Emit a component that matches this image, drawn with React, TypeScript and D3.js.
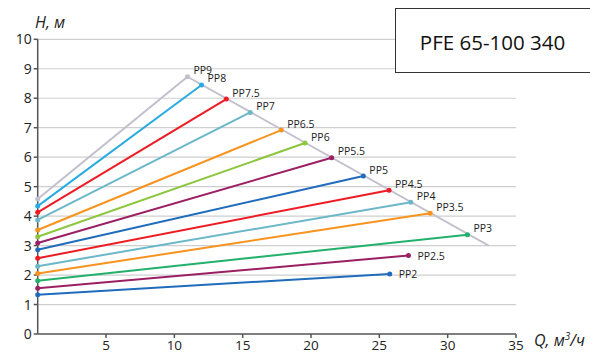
import React, { useEffect, useRef } from "react";
import * as d3 from "d3";

const seriesNames = ["PP9", "PP8", "PP7.5", "PP7", "PP6.5", "PP6", "PP5.5", "PP5", "PP4.5", "PP4", "PP3.5", "PP3", "PP2.5", "PP2"];
const startH = [4.58, 4.34, 4.13, 3.87, 3.53, 3.30, 3.09, 2.86, 2.57, 2.30, 2.05, 1.81, 1.55, 1.33];
const endQ = [10.96, 11.99, 13.8, 15.55, 17.82, 19.56, 21.51, 23.83, 25.71, 27.3, 28.72, 31.45, 27.13, 25.76];
const endH = [8.73, 8.45, 7.97, 7.52, 6.92, 6.48, 5.98, 5.36, 4.88, 4.47, 4.10, 3.37, 2.66, 2.04];
const seriesColors = ["#c3bfcd", "#29abe2", "#ed1c24", "#6cb7c8", "#f7931e", "#8cc63f", "#9b1f63", "#1f6cbc", "#ed1c24", "#6cb7c8", "#f7931e", "#22b06a", "#9b1f63", "#1f6cbc"];
const envelopeQ = [10.96, 33];
const envelopeH = [8.73, 3.0];
const xTicks = [5, 10, 15, 20, 25, 30, 35];
const yTicks = [0, 1, 2, 3, 4, 5, 6, 7, 8, 9, 10];
const title = "PFE 65-100 340";

export default function App() {
  const ref = useRef<SVGSVGElement>(null);
  useEffect(() => {
    const svg = d3.select(ref.current);
    svg.selectAll("*").remove();
    const x = d3.scaleLinear().domain([0, 35]).range([37.7, 516]);
    const y = d3.scaleLinear().domain([0, 10]).range([334, 39.3]);
    const font = "'Open Sans', sans-serif";

    // grid
    svg.append("g").selectAll("line").data(yTicks.filter(t => t > 0)).join("line")
      .attr("x1", x(0)).attr("x2", x(35))
      .attr("y1", d => y(d)).attr("y2", d => y(d))
      .attr("stroke", "#cfcfcf").attr("stroke-width", 1.2);

    // axes
    const ax = svg.append("g").attr("stroke", "#555").attr("stroke-width", 1.5);
    ax.append("line").attr("x1", x(0)).attr("x2", x(35)).attr("y1", y(0)).attr("y2", y(0));
    ax.append("line").attr("x1", x(0)).attr("x2", x(0)).attr("y1", y(0)).attr("y2", y(10));
    ax.selectAll(".yt").data(yTicks).join("line").attr("class", "yt")
      .attr("x1", x(0) - 4).attr("x2", x(0)).attr("y1", d => y(d)).attr("y2", d => y(d));
    ax.selectAll(".xt").data(xTicks).join("line").attr("class", "xt")
      .attr("x1", d => x(d)).attr("x2", d => x(d)).attr("y1", y(0)).attr("y2", y(0) + 4);

    svg.append("g").selectAll("text").data(yTicks).join("text")
      .attr("x", x(0) - 6).attr("y", d => y(d) + 5).attr("text-anchor", "end")
      .attr("font-family", font).attr("font-size", 14).attr("fill", "#222").text(d => d);
    svg.append("g").selectAll("text").data(xTicks).join("text")
      .attr("x", d => x(d)).attr("y", 349.5).attr("text-anchor", "middle")
      .attr("font-family", font).attr("font-size", 13.5).attr("fill", "#222").text(d => d);

    svg.append("text").attr("x", 35).attr("y", 28).attr("font-family", font).attr("font-size", 16)
      .attr("font-style", "italic").attr("fill", "#222").text("H, м");
    const q = svg.append("text").attr("x", 534).attr("y", 346).attr("font-family", font).attr("font-size", 16)
      .attr("font-style", "italic").attr("fill", "#222");
    q.append("tspan").text("Q, м");
    q.append("tspan").attr("font-size", 10).attr("dy", -6).text("3");
    q.append("tspan").attr("dy", 6).text("/ч");

    // envelope
    const line = d3.line<[number, number]>().x(d => x(d[0])).y(d => y(d[1]));
    svg.append("path").attr("d", line(envelopeQ.map((v, i) => [v, envelopeH[i]]) as [number, number][]))
      .attr("fill", "none").attr("stroke", seriesColors[0]).attr("stroke-width", 1.8);

    const g = svg.append("g");
    seriesNames.forEach((name, i) => {
      const pts: [number, number][] = [[0, startH[i]], [endQ[i], endH[i]]];
      g.append("path").attr("d", line(pts)).attr("fill", "none")
        .attr("stroke", seriesColors[i]).attr("stroke-width", 2);
      pts.forEach(p => g.append("circle").attr("cx", x(p[0])).attr("cy", y(p[1])).attr("r", 2.5).attr("fill", seriesColors[i]));
      const onEnvelope = i < 12;
      g.append("text")
        .attr("x", x(endQ[i]) + (onEnvelope ? 6 : 9))
        .attr("y", y(endH[i]) + (onEnvelope ? -2.5 : 4))
        .attr("font-family", font).attr("font-size", 10.5).attr("fill", "#222").text(name);
    });

    // title box
    svg.append("rect").attr("x", 395.5).attr("y", 8.5).attr("width", 200).attr("height", 64)
      .attr("fill", "#fff").attr("stroke", "#333").attr("stroke-width", 1);
    svg.append("text").attr("x", 492.5).attr("y", 50).attr("text-anchor", "middle")
      .attr("font-family", font).attr("font-size", 20.5).attr("fill", "#111").text(title);
  }, []);
  return (
    <svg ref={ref} width={590} height={353}
      style={{ position: "absolute", left: 0, top: 0, background: "#fff" }} />
  );
}
